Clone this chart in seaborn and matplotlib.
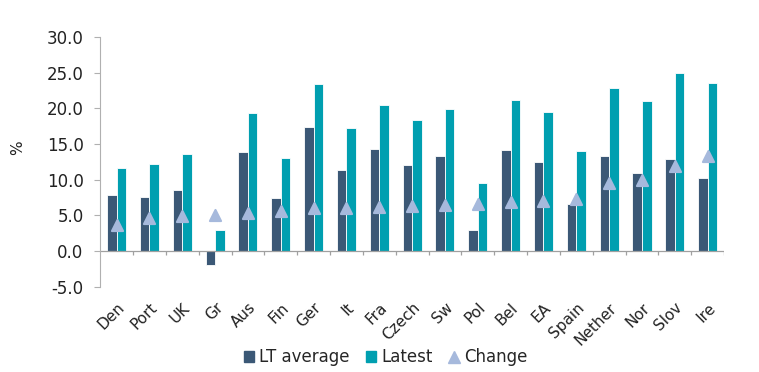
import numpy as np
import pandas as pd
import matplotlib
matplotlib.use("Agg")
import matplotlib.pyplot as plt
import seaborn as sns
from matplotlib.patches import Patch
from matplotlib.lines import Line2D

countries = ["Den", "Port", "UK", "Gr", "Aus", "Fin", "Ger", "It", "Fra", "Czech",
             "Sw", "Pol", "Bel", "EA", "Spain", "Nether", "Nor", "Slov", "Ire"]
lt_average = [7.9, 7.6, 8.6, -2.0, 13.9, 7.5, 17.4, 11.3, 14.3, 12.0,
              13.3, 2.9, 14.2, 12.5, 6.6, 13.3, 11.0, 12.9, 10.3]
latest = [11.6, 12.2, 13.6, 2.9, 19.3, 13.1, 23.4, 17.3, 20.5, 18.3,
          19.9, 9.5, 21.2, 19.5, 14.0, 22.9, 21.0, 24.9, 23.6]
change = [3.7, 4.6, 4.9, 5.0, 5.4, 5.6, 6.0, 6.1, 6.2, 6.3,
          6.5, 6.6, 6.9, 7.0, 7.3, 9.5, 9.9, 11.9, 13.3]

c_lt = "#3b5876"
c_latest = "#009fb0"
c_change = "#a6b9dc"

df = pd.DataFrame({"country": countries, "LT average": lt_average, "Latest": latest})
long = df.melt(id_vars="country", var_name="series", value_name="value")
chg = pd.DataFrame({"country": countries, "Change": change})

sns.set_style("white")
plt.rcParams["font.family"] = ["DejaVu Sans"]

fig = plt.figure(figsize=(7.59, 3.72), dpi=100)
ax = fig.add_axes([0.132, 0.229, 0.822, 0.672])

sns.barplot(data=long, x="country", y="value", hue="series", order=countries,
            palette=[c_lt, c_latest], saturation=1, width=0.58, edgecolor="white",
            linewidth=0.6, legend=False, ax=ax)
sns.stripplot(data=chg, x="country", y="Change", order=countries, jitter=False,
              marker="^", size=8, color=c_change, edgecolor=c_change, linewidth=1.5,
              zorder=5, ax=ax)
for coll in ax.collections:
    coll.set_joinstyle("round")

ax.set_ylim(-5, 30)
ax.set_yticks(np.arange(-5, 31, 5))
ax.set_yticklabels([f"{v:.1f}" for v in np.arange(-5, 31, 5)], fontsize=12, color="#222222")
ax.set_xlim(-0.5, len(countries) - 0.5)
ax.set_xlabel("")
ax.set_ylabel("%", fontsize=11, color="#222222")
ax.yaxis.set_label_coords(-0.12, 0.555)

for s in ["top", "right", "bottom"]:
    ax.spines[s].set_visible(False)
ax.spines["left"].set_color("#b0b0b0")
ax.tick_params(axis="y", left=True, length=4, color="#b0b0b0", pad=8)
ax.tick_params(axis="x", bottom=False, pad=6)

# zero line with small tick marks between the groups
ax.axhline(0, color="#a0a0a0", lw=0.9, zorder=1)
ax.vlines(np.arange(len(countries)) + 0.5, -0.5, 0, color="#a0a0a0", lw=0.9)

plt.setp(ax.get_xticklabels(), rotation=45, ha="right", rotation_mode="anchor",
         fontsize=11, color="#222222")

handles = [Patch(color=c_lt), Patch(color=c_latest),
           Line2D([], [], marker="^", ls="none", color=c_change, markersize=9)]
fig.legend(handles, ["LT average", "Latest", "Change"], loc="center",
           bbox_to_anchor=(0.508, 0.04), ncol=3, frameon=False, fontsize=12,
           handlelength=0.6, handleheight=0.6, handletextpad=0.3, columnspacing=1.0)

fig.savefig("out.png", dpi=100)
